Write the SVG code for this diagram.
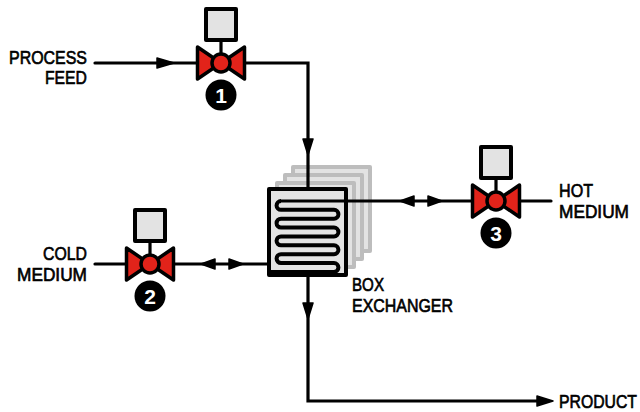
<svg xmlns="http://www.w3.org/2000/svg" width="640" height="412" viewBox="0 0 640 412">
<style>
.p{fill:none;stroke:#000;stroke-width:3.200;stroke-linecap:round}
.c{fill:none;stroke:#000;stroke-width:4}
.t{font-family:"Liberation Sans",Arial,sans-serif;font-size:18.500px;fill:#000;stroke:#000;stroke-width:.65}
.g{fill:#e3e3e3;stroke:#bdbdbd;stroke-width:4;stroke-linejoin:round}
.box{fill:#e3e3e3;stroke:#000;stroke-width:4;stroke-linejoin:round}
.v{fill:#e2231a;stroke:#000;stroke-width:3.500;stroke-linejoin:round}
.n{font-family:"Liberation Sans",Arial,sans-serif;font-size:21px;font-weight:700;fill:#fff;text-anchor:middle}
.a{fill:#000;stroke:#000;stroke-width:1.500;stroke-linejoin:round}
</style>
<defs>
<g id="valve">
<rect class="box" x="-15" y="-54" width="30" height="31"/>
<path d="M0-23V0" class="p"/>
<path class="v" d="M-23.500-16L0 0L-23.500 16Z"/>
<path class="v" d="M23.500-16L0 0L23.500 16Z"/>
<circle class="v" r="9"/>
<circle cy="32" r="15.500" fill="#000"/>
</g>
</defs>
<g id="exchanger">
<rect class="g" x="293" y="167" width="77" height="84"/>
<rect class="g" x="285" y="175" width="77" height="84"/>
<rect class="g" x="277" y="183" width="77" height="84"/>
<rect class="box" x="269" y="189" width="77" height="86"/>
<path class="c" d="M281 201a4.430 4.430 0 0 0 0 8.860H334a4.430 4.430 0 0 1 0 8.860H281a4.430 4.430 0 0 0 0 8.860H334a4.430 4.430 0 0 1 0 8.860H281a4.430 4.430 0 0 0 0 8.860H334a4.430 4.430 0 0 1 0 8.860H281a4.430 4.430 0 0 0 0 8.860H334a4.430 4.430 0 0 1 0 8.860H268"/>
<text class="t" x="352" y="291" textLength="32" lengthAdjust="spacingAndGlyphs">BOX</text>
<text class="t" x="352" y="312" textLength="101" lengthAdjust="spacingAndGlyphs">EXCHANGER</text>
</g>
<g id="connectors">
<path class="p" d="M95 63H197M245 63H308V188M281 201H472M520 201H551M269 264H175M126 264H95M308 276V401H548"/>
<path class="a" d="M157 58L174 63L157 68Z M303 139L308 155L313 139Z M303 303L308 319L313 303Z M537 396L553 401L537 406Z M414 196L400 201L414 206Z M428 196L442 201L428 206Z M215 259L201 264L215 269Z M229 259L243 264L229 269Z"/>
</g>
<g id="valve1"><use href="#valve" x="221" y="63"/><text class="n" x="221" y="103">1</text></g>
<g id="valve2"><use href="#valve" x="150" y="264"/><text class="n" x="150" y="304">2</text></g>
<g id="valve3"><use href="#valve" x="496" y="201"/><text class="n" x="496" y="241">3</text></g>
<g id="labels">
<text class="t" x="9" y="63.500" textLength="78" lengthAdjust="spacingAndGlyphs">PROCESS</text>
<text class="t" x="45" y="84" textLength="42" lengthAdjust="spacingAndGlyphs">FEED</text>
<text class="t" x="43" y="260" textLength="44" lengthAdjust="spacingAndGlyphs">COLD</text>
<text class="t" x="17" y="281" textLength="70" lengthAdjust="spacingAndGlyphs">MEDIUM</text>
<text class="t" x="559" y="197" textLength="34" lengthAdjust="spacingAndGlyphs">HOT</text>
<text class="t" x="559" y="218" textLength="70" lengthAdjust="spacingAndGlyphs">MEDIUM</text>
<text class="t" x="559" y="408" textLength="78" lengthAdjust="spacingAndGlyphs">PRODUCT</text>
</g>
</svg>
